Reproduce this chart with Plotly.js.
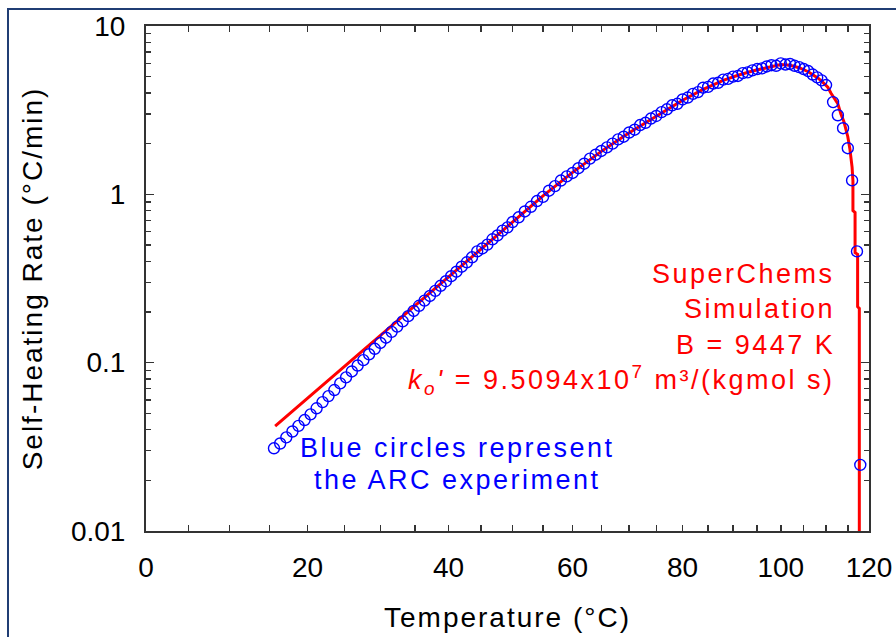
<!DOCTYPE html>
<html><head><meta charset="utf-8">
<script src="https://cdn.plot.ly/plotly-3.0.1.min.js"></script>
<style>
html,body{margin:0;padding:0;background:#fff;overflow:hidden}
#chart{width:896px;height:637px}
#frame{position:absolute;left:7px;top:8px;width:1000px;height:1000px;border-left:2px solid #203d74;border-top:2px solid #203d74;pointer-events:none;z-index:5}
.annotation-text{letter-spacing:2.5px}
.xtitle,.ytitle{letter-spacing:2px}
</style></head>
<body><div id="chart"></div><div id="frame"></div>
<script>
// ARC experiment (blue open circles): temperature (°C) and self-heating rate (°C/min)
const arcT = [15.6,16.4,17.2,18.0,18.8,19.6,20.4,21.2,22.0,22.8,23.6,24.4,25.2,26.0,26.8,27.6,28.4,29.2,30.0,30.8,
  31.6,32.4,33.2,34.0,34.8,35.6,36.4,37.2,38.0,38.8,39.6,40.4,41.2,42.0,42.8,43.6,44.4,45.2,46.0,46.8,
  47.6,48.4,49.2,50,51,52,53,54,55,56,57,58,59,60,61,62,63,64,65,66,67,68,69,70,71,72,73,74,75,76,77,78,79,80,
  81,82,83,84,85,86,87,88,89,90,91,92,93,94,95,96,97,98,99,100,101,102,103,104,105,106,107,108,109,
  110.0,111.6,112.7,113.9,115.0,116.0,117.15,117.93];
const arcRate = [0.031,0.0331,0.0360,0.0390,0.0421,0.0456,0.0493,0.0536,0.0583,0.0633,0.0688,0.0753,0.0818,0.0887,0.0961,0.1035,0.1122,0.1209,0.1309,0.1407,
  0.1524,0.1638,0.1760,0.1890,0.2029,0.2178,0.2337,0.2490,0.2670,0.2862,0.3046,0.3264,0.3470,0.3716,0.3949,0.4227,0.4583,0.4768,0.5027,0.5409,
  0.5698,0.6088,0.6368,0.6844,0.7303,0.7909,0.8437,0.9124,0.9658,1.0507,1.119,1.208,1.279,1.34,1.43,1.52,1.63,1.72,1.81,1.90,2.0,2.12,2.2,2.33,2.42,2.58,2.66,2.82,2.92,3.08,3.2,3.38,3.45,3.66,
  3.76,3.95,4.05,4.3,4.35,4.55,4.6,4.8,4.85,5.0,5.05,5.25,5.3,5.45,5.55,5.6,5.75,5.85,5.8,6.0,5.9,5.95,5.8,5.7,5.55,5.4,5.15,4.95,4.75,
  4.46,3.53,2.95,2.47,1.88,1.21,0.458,0.0247];

// SuperChems simulation (red line)
const simT = [15.75,20,25,30,35,40,45,50,55,60,65,70,75,80,84,88,91,94,97,100,102,104,106,107.3,108.2,109,110.4,111.1,112,112.7,113.4,114.1,115,115.5,116,116.2,116.2,116.7,116.7,117.3,117.3,117.7,117.7];
const simRate = [0.042,0.0617,0.0953,0.1451,0.2179,0.3229,0.4729,0.6844,0.979,1.35,1.80,2.32,2.92,3.62,4.2,4.75,5.1,5.4,5.65,5.9,5.85,5.65,5.35,5.1,4.9,4.7,4.33,4.0,3.7,3.45,3.0,2.7,2.2,1.85,1.45,1.2,0.8,0.78,0.45,0.44,0.215,0.21,0.005];

// Axis ticks (°C labels on an inverse-absolute-temperature scale)
const tempTickLabels = [0,20,40,60,80,100,120];
const tempMinorTicks = [5,10,15,25,30,35,45,50,55,65,70,75,85,90,95,105,110,115];
const rateTickVals = [0.01,0.1,1,10];
const rateTickText = ['0.01','0.1','1','10'];
const rateMinorTicks = [0.02,0.03,0.04,0.05,0.06,0.07,0.08,0.09,0.2,0.3,0.4,0.5,0.6,0.7,0.8,0.9,2,3,4,5,6,7,8,9];

const invT = t => -1000/(t+273.15);

const font = 'Liberation Sans, Arial, sans-serif';
const axisCol = '#333';

const traces = [
  {x: simT.map(invT), y: simRate, mode:'lines', type:'scatter', name:'SuperChems',
   line:{color:'#ff0000', width:3}, hoverinfo:'skip'},
  {x: arcT.map(invT), y: arcRate, mode:'markers', type:'scatter', name:'ARC',
   marker:{symbol:'circle-open', size:11, color:'#0000ff', line:{width:1.4, color:'#0000ff'}}, cliponaxis:true}
];

const layout = {
  width:896, height:637,
  margin:{l:146, r:27, t:26, b:106},
  paper_bgcolor:'rgba(0,0,0,0)', plot_bgcolor:'#fff',
  showlegend:false,
  font:{family:font, color:'#000'},
  xaxis:{
    range:[invT(0), invT(120)], tickmode:'array',
    tickvals: tempTickLabels.map(invT), ticktext: tempTickLabels.map(String),
    ticks:'inside', ticklen:6, tickwidth:1.5, tickcolor:axisCol,
    showline:true, linecolor:axisCol, linewidth:2, mirror:'ticks',
    showgrid:false, zeroline:false,
    tickfont:{size:28, family:font, color:'#000'}, ticklabelstandoff:10,
    minor:{tickmode:'array', tickvals: tempMinorTicks.map(invT), ticks:'inside', ticklen:6, tickwidth:1.5, tickcolor:axisCol, showgrid:false},
    title:{text:'Temperature (°C)', font:{size:28, family:font, color:'#000'}, standoff:26}
  },
  yaxis:{
    type:'log', range:[-2,1], tickmode:'array',
    tickvals: rateTickVals, ticktext: rateTickText,
    ticks:'inside', ticklen:8, tickwidth:1.5, tickcolor:axisCol,
    showline:true, linecolor:axisCol, linewidth:2, mirror:'ticks',
    showgrid:false, zeroline:false,
    tickfont:{size:28, family:font, color:'#000'}, ticklabelstandoff:13,
    minor:{tickmode:'array', tickvals: rateMinorTicks, ticks:'inside', ticklen:5, tickwidth:1.5, tickcolor:axisCol, showgrid:false},
    title:{text:'Self-Heating Rate (°C/min)', font:{size:28, family:font, color:'#000'}, standoff:20}
  },
  annotations:[
    {xref:'paper', yref:'paper', x:0.956, y:0.509, xanchor:'right', yanchor:'middle', showarrow:false, align:'right',
     text:'SuperChems', font:{size:27, family:font, color:'#ff0000'}},
    {xref:'paper', yref:'paper', x:0.956, y:0.440, xanchor:'right', yanchor:'middle', showarrow:false, align:'right',
     text:'Simulation', font:{size:27, family:font, color:'#ff0000'}},
    {xref:'paper', yref:'paper', x:0.956, y:0.368, xanchor:'right', yanchor:'middle', showarrow:false, align:'right',
     text:'B = 9447 K', font:{size:27, family:font, color:'#ff0000'}},
    {xref:'paper', yref:'paper', x:0.956, y:0.299, xanchor:'right', yanchor:'middle', showarrow:false, align:'right',
     text:"<i>k<sub>o</sub>'</i> = 9.5094x10<sup>7</sup> m³/(kgmol s)", font:{size:27, family:font, color:'#ff0000'}},
    {xref:'paper', yref:'paper', x:0.4315, y:0.164, xanchor:'center', yanchor:'middle', showarrow:false,
     text:'Blue circles represent', font:{size:27, family:font, color:'#0000ff'}},
    {xref:'paper', yref:'paper', x:0.4315, y:0.101, xanchor:'center', yanchor:'middle', showarrow:false,
     text:'the ARC experiment', font:{size:27, family:font, color:'#0000ff'}}
  ]
};

Plotly.newPlot('chart', traces, layout, {displayModeBar:false, staticPlot:true});
</script></body></html>
